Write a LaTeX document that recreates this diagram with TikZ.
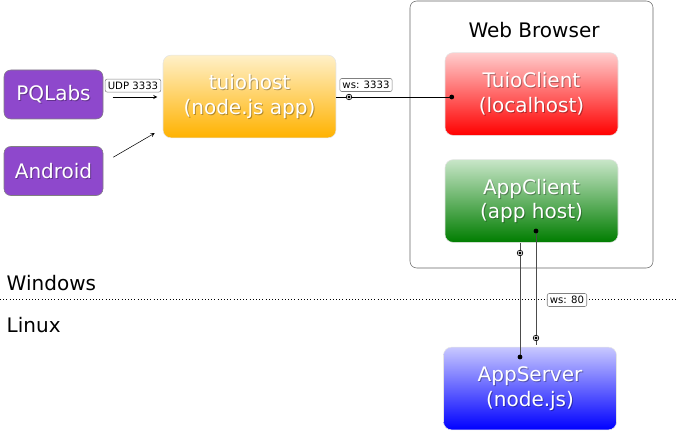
\documentclass[tikz,border=0pt]{standalone}
\usepackage{fontspec}
\setmainfont{DejaVu Sans}
\usepackage{tikz}

\definecolor{devpurple}{RGB}{142,72,204}
\newcommand\boxtext[2]{%
  \node[align=center,font=\fontsize{15}{18.5}\selectfont,text=black,opacity=0.3] at ([shift={(1,1)}]#1) {#2};
  \node[align=center,font=\fontsize{15}{18.5}\selectfont,text=white] at (#1) {#2};}

\begin{document}
\begin{tikzpicture}[x=0.75pt,y=-0.75pt,
  dev/.style={draw=gray,fill=devpurple,rounded corners=5pt,minimum width=74.25pt,minimum height=36.75pt,inner sep=0pt},
  app/.style={draw=black!10,rounded corners=6pt,minimum width=129.75pt,minimum height=62pt,inner sep=0pt},
  port/.style={draw=gray,fill=white,rounded corners=1.5pt,inner sep=2pt,font=\fontsize{7.6}{8}\selectfont},
  dot/.style={circle,fill=black,inner sep=0pt,minimum size=3.6pt},
  ring/.style={circle,draw=black,fill=white,inner sep=0pt,minimum size=4.2pt,line width=0.5pt}]
\useasboundingbox (0,0) rectangle (677,431);

\node[draw=black!60,rounded corners=5pt,minimum width=182.25pt,minimum height=200.25pt] (browser) at (531.5,134.5) {};
\node[font=\fontsize{15}{17}\selectfont] (title) at (534,30) {Web Browser};

\node[dev] (pq) at (53.5,94.5) {};
\boxtext{pq}{PQLabs}
\node[dev] (android) at (53.5,171) {};
\boxtext{android}{Android}

\node[app,top color={rgb,255:red,255;green,240;blue,200},bottom color={rgb,255:red,255;green,178;blue,0}] (tuiohost) at (249.5,96.5) {};
\boxtext{tuiohost}{tuiohost\\(node.js app)}
\node[app,top color={rgb,255:red,255;green,205;blue,205},bottom color={rgb,255:red,255;green,0;blue,0}] (tuioclient) at (531.5,94) {};
\boxtext{tuioclient}{TuioClient\\(localhost)}
\node[app,top color={rgb,255:red,200;green,230;blue,200},bottom color={rgb,255:red,0;green,125;blue,0}] (appclient) at (531.5,201) {};
\boxtext{appclient}{AppClient\\(app host)}
\node[app,top color={rgb,255:red,200;green,200;blue,255},bottom color={rgb,255:red,0;green,0;blue,255}] (appserver) at (530,388.5) {};
\boxtext{appserver}{AppServer\\(node.js)}

\node[font=\fontsize{15}{17}\selectfont,anchor=west] (win) at (2,283) {Windows};
\node[font=\fontsize{15}{17}\selectfont,anchor=west] (linux) at (2,325) {Linux};
\coordinate (split) at (0,299);
\draw[dotted] (split) -- ++(677,0);

\draw[->,>=stealth,shorten <=7,shorten >=4] (pq.east |- 0,97) -- (tuiohost.west |- 0,97) node[port,midway,above=3.5pt] {UDP 3333};
\draw[->,>=stealth] ([shift={(10,11)}]android.north east) -- ([shift={(-8,-5)}]tuiohost.south west);

\coordinate (ws1) at ([shift={(7,3)}]tuioclient.west);
\draw (tuiohost.east |- ws1) -- (ws1);
\node[dot] at (ws1) {};
\node[ring] at (349,97) {};
\node[dot,minimum size=2.4pt] at (349,97) {};
\node[port] (wslabel) at (366,85) {ws: 3333};

\coordinate (a1) at (520,357);
\coordinate (a2) at (536,231);
\draw[black!70,line width=0.75pt] (appclient.south -| a1) -- (a1);
\draw[black!70,line width=0.75pt] (a2) -- (536,345);
\node[dot] at (a1) {};
\node[dot] at (a2) {};
\node[ring] at (520,253) {};
\node[dot,minimum size=2.4pt] at (520,253) {};
\node[ring] at (536,338) {};
\node[dot,minimum size=2.4pt] at (536,338) {};
\node[port] (wslabel2) at (567,300) {ws: 80};
\end{tikzpicture}
\end{document}
